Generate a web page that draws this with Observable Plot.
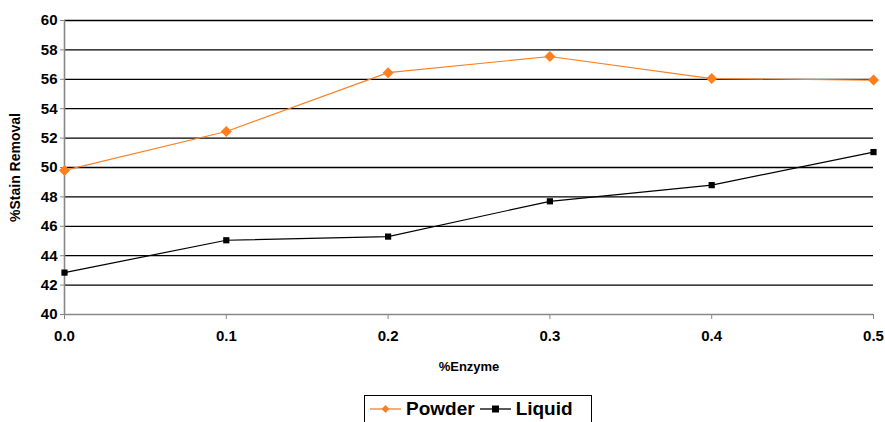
<!DOCTYPE html>
<html>
<head>
<meta charset="utf-8">
<script src="https://cdn.jsdelivr.net/npm/d3@7"></script>
<script src="https://cdn.jsdelivr.net/npm/@observablehq/plot@0.6"></script>
<style>
  body { margin: 0; background: #fff; font-family: "Liberation Sans", Arial, sans-serif; }
  #chart { position: relative; width: 885px; height: 422px; overflow: hidden; }
  #legend {
    position: absolute; left: 364px; top: 395px; width: 228px; height: 40px;
    border: 1px solid #000; box-sizing: border-box; background: #fff;
    font-weight: bold; font-size: 19px; display: flex; align-items: flex-start;
    padding-top: 2px; padding-left: 5px;
  }
  .item { display: flex; align-items: center; margin-right: 5px; }
  .item svg { margin-right: 5px; }
</style>
</head>
<body>
<div id="chart"></div>
<script>
const enzyme = [0.0, 0.1, 0.2, 0.3, 0.4, 0.5];
const powder = [49.8, 52.45, 56.45, 57.55, 56.05, 55.95];
const liquid = [42.85, 45.05, 45.3, 47.7, 48.8, 51.05];
const yTicks = [40, 42, 44, 46, 48, 50, 52, 54, 56, 58, 60];
const xTicks = [0.0, 0.1, 0.2, 0.3, 0.4, 0.5];
const seriesNames = ["Powder", "Liquid"];
const seriesColors = ["#ff7f1f", "#000000"];
const yLabel = ["%Stain Removal"];
const xLabel = ["%Enzyme"];

const rows = [];
enzyme.forEach((e, i) => {
  rows.push({series: seriesNames[0], x: e, y: powder[i]});
  rows.push({series: seriesNames[1], x: e, y: liquid[i]});
});
const gridTicks = yTicks.filter(v => v > 40);

const plot = Plot.plot({
  width: 885,
  height: 392,
  marginLeft: 64,
  marginRight: 12,
  marginTop: 20,
  marginBottom: 78,
  style: {fontFamily: "'Liberation Sans', Arial, sans-serif", fontWeight: "bold", fontSize: "15px", background: "#fff", overflow: "visible"},
  x: {domain: [0, 0.5]},
  y: {domain: [40, 60]},
  color: {domain: seriesNames, range: seriesColors},
  marks: [
    Plot.ruleY(gridTicks, {stroke: "#000", strokeWidth: 1.3, strokeOpacity: 1}),
    Plot.ruleY([40], {stroke: "#888", strokeWidth: 1.6}),
    Plot.ruleX([0], {y1: 40, y2: 60, stroke: "#888", strokeWidth: 1.6}),
    Plot.axisY({ticks: yTicks, tickSize: 4, tickPadding: 3, fontSize: 15, stroke: "#888", label: null}),
    Plot.axisX({ticks: xTicks, tickSize: 5, tickPadding: 11, fontSize: 15, stroke: "#888",
      tickFormat: d => d.toFixed(1), label: null}),
    Plot.text(yLabel, {text: d => d, frameAnchor: "left", textAnchor: "middle", dx: -49, rotate: -90, fontSize: 14, fill: "#000"}),
    Plot.text(xLabel, {text: d => d, frameAnchor: "bottom", dy: 56, fontSize: 13, fill: "#000"}),
    Plot.line(rows, {x: "x", y: "y", z: "series", stroke: "series", strokeWidth: 1.2}),
    Plot.dot(rows.filter(d => d.series === "Powder"), {x: "x", y: "y", symbol: "diamond2", r: 4, fill: seriesColors[0], stroke: seriesColors[0]}),
    Plot.dot(rows.filter(d => d.series === "Liquid"), {x: "x", y: "y", symbol: "square", r: 3.5, fill: seriesColors[1]})
  ]
});
document.getElementById("chart").appendChild(plot);

const legend = document.createElement("div");
legend.id = "legend";
seriesNames.forEach((name, i) => {
  const item = document.createElement("div");
  item.className = "item";
  const marker = i === 0
    ? `<svg width="31" height="12"><line x1="0" y1="6" x2="31" y2="6" stroke="${seriesColors[i]}" stroke-width="1.3"/><path d="M15.5,2 L19.5,6 L15.5,10 L11.5,6 Z" fill="${seriesColors[i]}"/></svg>`
    : `<svg width="31" height="12"><line x1="0" y1="6" x2="31" y2="6" stroke="${seriesColors[i]}" stroke-width="1.3"/><rect x="12" y="2.5" width="7" height="7" fill="${seriesColors[i]}"/></svg>`;
  item.innerHTML = marker + `<span>${name}</span>`;
  legend.appendChild(item);
});
document.getElementById("chart").appendChild(legend);
</script>
</body>
</html>
